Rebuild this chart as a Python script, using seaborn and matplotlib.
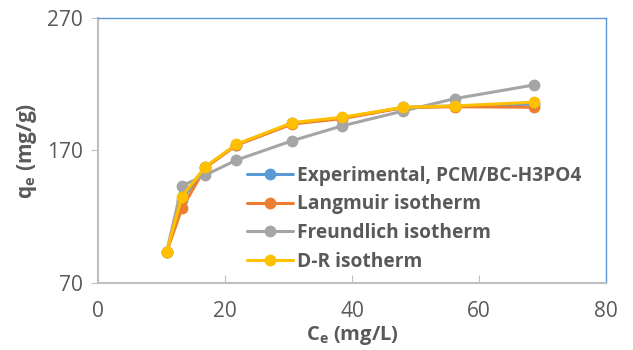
import matplotlib
matplotlib.use("Agg")
import matplotlib.pyplot as plt
import seaborn as sns
import pandas as pd

ce = [10.8, 13.2, 16.9, 21.8, 30.6, 38.4, 48.1, 56.2, 68.7]
q_exp = [93.6, 133.0, 157.5, 174.5, 190.5, 194.5, 202.5, 203.6, 205.0]
q_langmuir = [93.6, 126.4, 157.0, 174.0, 190.0, 194.0, 202.3, 203.0, 202.6]
q_freundlich = [93.6, 143.4, 151.5, 162.8, 177.4, 188.5, 199.8, 209.1, 219.4]
q_dr = [93.6, 135.2, 157.8, 174.7, 191.0, 195.0, 202.6, 203.6, 206.4]

names = ["Experimental, PCM/BC-H3PO4", "Langmuir isotherm",
         "Freundlich isotherm", "D-R isotherm"]
colors = ["#5B9BD5", "#ED7D31", "#A5A5A5", "#FFC000"]

rows = []
for name, vals in zip(names, [q_exp, q_langmuir, q_freundlich, q_dr]):
    for x, y in zip(ce, vals):
        rows.append({"Ce": x, "qe": y, "series": name})
df = pd.DataFrame(rows)

sns.set_style("white")
plt.rcParams["font.family"] = ["Open Sans", "DejaVu Sans"]

fig = plt.figure(figsize=(6.33, 3.5), dpi=100)
ax = fig.add_axes([0.155, 0.191, 0.802, 0.758])

sns.lineplot(data=df, x="Ce", y="qe", hue="series", hue_order=names,
             palette=colors, marker="o", markersize=8.5, markeredgewidth=0,
             linewidth=2.2, ax=ax, sort=False)

ax.set_xlim(0, 80)
ax.set_ylim(70, 270)
ax.set_xticks([0, 20, 40, 60, 80])
ax.set_yticks([70, 170, 270])
tc = "#595959"
ax.tick_params(axis="x", direction="in", length=6, color="#BFBFBF",
               labelsize=15, labelcolor=tc, pad=13)
ax.tick_params(axis="y", direction="out", length=5, color="#BFBFBF",
               labelsize=15, labelcolor=tc, pad=6, left=True)
ax.tick_params(axis="x", bottom=True)

for s in ["left", "bottom"]:
    ax.spines[s].set_color("#BFBFBF")
    ax.spines[s].set_linewidth(1.5)
for s in ["top", "right"]:
    ax.spines[s].set_color("#5B9BD5")
    ax.spines[s].set_linewidth(1.0)

ax.set_xlabel(r"C$_\mathregular{e}$ (mg/L)", fontsize=14.5, fontweight="bold",
              color=tc, labelpad=1)
ax.set_ylabel(r"q$_\mathregular{e}$ (mg/g)", fontsize=15, fontweight="bold",
              color=tc, labelpad=6)

leg = ax.legend(loc="lower left", bbox_to_anchor=(0.27, 0.0), frameon=False,
                prop={"weight": "bold", "size": 13.8}, handlelength=2.4,
                handletextpad=0.2, labelspacing=0.45, borderaxespad=0.2)
for t in leg.get_texts():
    t.set_color(tc)

fig.savefig("out.png", dpi=100)
